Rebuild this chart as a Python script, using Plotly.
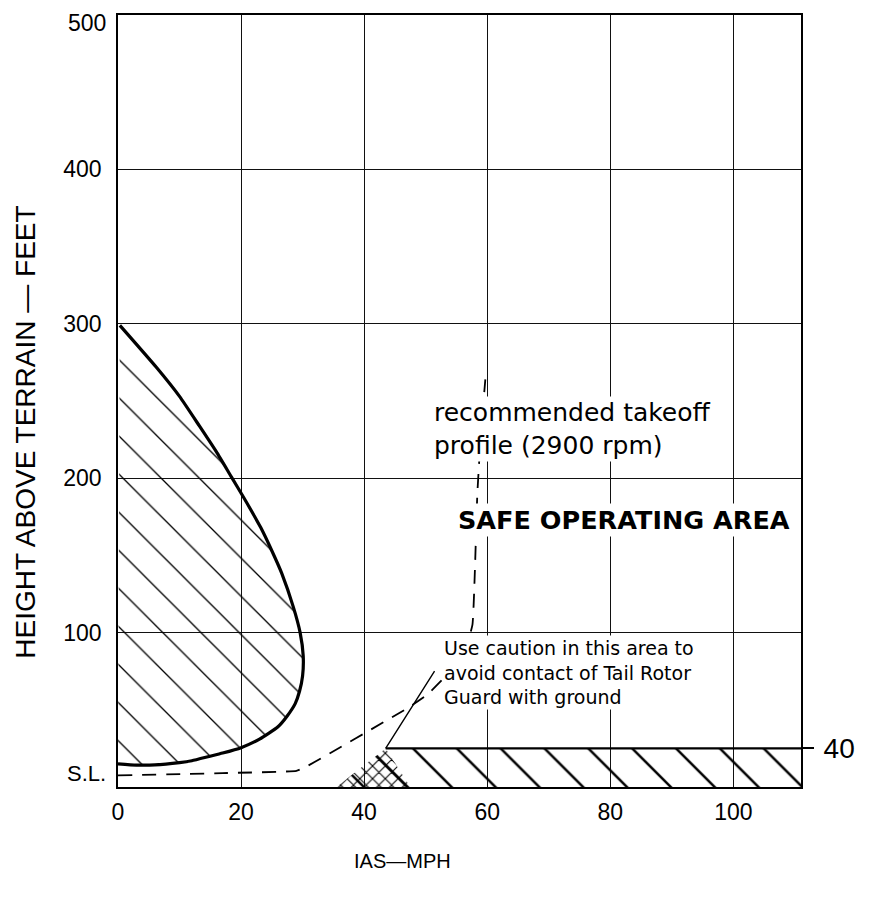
import plotly.graph_objects as go

# height-velocity curve (area to avoid), IAS in mph / height in feet
curve_ias = [0.3, 6.2, 10, 13.2, 16, 18.4, 20.5, 23.2, 25, 26.6, 28.5, 29.6, 30.1, 30.0, 29.5, 28.8, 27.5, 26, 23, 20, 17, 14.8, 12, 10, 6, 3, 0]
curve_ft = [299, 272, 253, 234, 217, 201, 187, 168, 153, 138.5, 116.5, 100, 85, 72, 62, 54, 46, 39, 31, 25.5, 22, 19.8, 17, 15.8, 14.3, 14.2, 15]

# recommended takeoff profile (2900 rpm)
takeoff_ias = [0, 17, 29, 30.5, 47, 50.3, 54, 56.5, 57.6, 58, 58.4, 59, 59.7]
takeoff_ft = [7.5, 9, 10.5, 13, 51, 60, 75, 90, 105, 140, 190, 230, 264]

# low-height band below the 40 mark
band_ias = [35.5, 43.5, 111, 111]
band_ft = [0, 25, 25, 0]
band_top_ias = [43.5, 111]
band_top_ft = [25, 25]

# tail rotor guard caution triangle
caution_ias = [35.5, 43.5, 47.5]
caution_ft = [0, 25, 0]

x_ticks = [0, 20, 40, 60, 80, 100]
y_ticks = [100, 200, 300, 400]
y_top = 500

FONT = "Liberation Sans, Arial, sans-serif"
TXT = "DejaVu Sans, sans-serif"

fig = go.Figure()

####hatched avoid region####
fig.add_trace(go.Scatter(
    x=curve_ias, y=curve_ft, mode='lines', fill='toself',
    fillcolor='rgba(0,0,0,0)',
    fillpattern=dict(shape='\\', fgcolor='black', fgopacity=1, bgcolor='rgba(0,0,0,0)', size=27, solidity=0.05),
    line=dict(width=0), hoverinfo='skip', showlegend=False))
fig.add_trace(go.Scatter(
    x=curve_ias, y=curve_ft, mode='lines',
    line=dict(color='black', width=3.2, shape='spline', smoothing=0.5),
    showlegend=False))

####band + crosshatch####
fig.add_trace(go.Scatter(
    x=band_ias, y=band_ft, mode='lines', fill='toself',
    fillcolor='rgba(0,0,0,0)',
    fillpattern=dict(shape='\\', fgcolor='black', fgopacity=1, bgcolor='rgba(0,0,0,0)', size=31, solidity=0.08),
    line=dict(width=0), hoverinfo='skip', showlegend=False))
fig.add_trace(go.Scatter(
    x=caution_ias, y=caution_ft, mode='lines', fill='toself',
    fillcolor='rgba(0,0,0,0)',
    fillpattern=dict(shape='x', fgcolor='black', fgopacity=1, bgcolor='rgba(0,0,0,0)', size=9, solidity=0.22),
    line=dict(width=0), hoverinfo='skip', showlegend=False))
fig.add_trace(go.Scatter(
    x=band_top_ias, y=band_top_ft, mode='lines', yaxis='y2',
    line=dict(color='black', width=2.2), showlegend=False))

####takeoff profile####
fig.add_trace(go.Scatter(
    x=takeoff_ias, y=takeoff_ft, mode='lines',
    line=dict(color='black', width=1.8, dash='14px,10px', shape='spline', smoothing=0.4),
    showlegend=False))

# page body adds 8px, margins are set so the frame lands where it should
fig.update_layout(
    width=872, height=897,
    margin=dict(l=110, r=79, t=7, b=118, pad=0),
    plot_bgcolor='white', paper_bgcolor='white',
    xaxis=dict(range=[0, 111], tickvals=x_ticks, ticktext=[str(v) for v in x_ticks],
               showgrid=True, gridcolor='#111', gridwidth=1, zeroline=False,
               showline=True, linecolor='black', linewidth=1.5, mirror=True,
               ticks='', ticklabelstandoff=4, automargin=False, ticklabeloverflow='allow',
               tickfont=dict(family=FONT, size=23, color='black')),
    yaxis=dict(range=[0, y_top], tickvals=y_ticks, ticktext=[str(v) for v in y_ticks],
               showgrid=True, gridcolor='#111', gridwidth=1, zeroline=False,
               showline=True, linecolor='black', linewidth=1.5, mirror=True,
               ticks='', ticklabelstandoff=10, automargin=False, ticklabeloverflow='allow',
               tickfont=dict(family=FONT, size=23, color='black')),
    yaxis2=dict(range=[0, y_top], overlaying='y', side='right', tickvals=[25], ticktext=['40'],
                showgrid=False, zeroline=False, showline=False, automargin=False,
                ticks='outside', ticklen=12, tickwidth=1.5, tickcolor='black',
                ticklabelstandoff=4, ticklabeloverflow='allow',
                tickfont=dict(family=FONT, size=28, color='black')),
    showlegend=False,
)

# top label sits a little under the frame line, bottom one reads S.L.
fig.add_annotation(text=str(y_top), xref='paper', x=0, xanchor='right', xshift=-10,
                   y=y_top - 5, yref='y', showarrow=False,
                   font=dict(family=FONT, size=23, color='black'))
fig.add_annotation(text='S.L.', xref='paper', x=0, xanchor='right', xshift=-10,
                   y=9, yref='y', showarrow=False,
                   font=dict(family=FONT, size=22, color='black'))
fig.add_annotation(text='HEIGHT ABOVE TERRAIN — FEET', textangle=-90,
                   xref='paper', x=-0.135, xanchor='center', yref='paper', y=0.46, yanchor='middle',
                   showarrow=False, font=dict(family=FONT, size=28, color='black'))
fig.add_annotation(text='IAS—MPH', xref='paper', x=0.416, yref='paper', y=-0.096, yanchor='middle',
                   showarrow=False, font=dict(family=FONT, size=20, color='black'))

fig.add_annotation(text='recommended takeoff<br>profile (2900 rpm)', align='left',
                   x=51, y=232, xanchor='left', yanchor='middle', showarrow=False,
                   bgcolor='white', font=dict(family=TXT, size=25, color='black'))
fig.add_annotation(text='<b>SAFE OPERATING AREA</b>',
                   x=55, y=173, xanchor='left', yanchor='middle', showarrow=False,
                   bgcolor='white', font=dict(family=TXT, size=25.5, color='black'))
fig.add_annotation(text='Use caution in this area to<br>avoid contact of Tail Rotor<br>Guard with ground',
                   align='left', x=52.6, y=74, xanchor='left', yanchor='middle', showarrow=False,
                   bgcolor='white', font=dict(family=TXT, size=19, color='black'))
# pointer from the caution note down to the band corner
fig.add_annotation(text='', x=43.5, y=25, ax=51.6, ay=76, axref='x', ayref='y',
                   showarrow=True, arrowhead=0, arrowwidth=1.4, arrowcolor='black')

fig.write_html("out.html")
